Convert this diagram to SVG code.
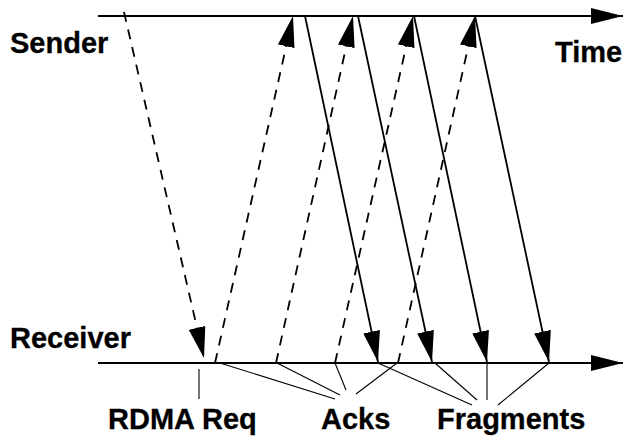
<svg xmlns="http://www.w3.org/2000/svg" width="626" height="438" viewBox="0 0 626 438">
<style>
.lbl{font-family:"Liberation Sans",Arial,sans-serif;font-weight:bold;font-size:29px;fill:#000;stroke:#000;stroke-width:0.3}
.axis{stroke:#000;stroke-width:2.2;fill:none}
.dash{stroke:#000;stroke-width:1.8;stroke-dasharray:10 8;fill:none}
.solid{stroke:#000;stroke-width:1.8;fill:none}
.thin{stroke:#000;stroke-width:1.1;fill:none}
</style>
<defs>
<marker id="ah" viewBox="0 0 31 17" markerWidth="31" markerHeight="17" refX="31" refY="8.5" markerUnits="userSpaceOnUse" orient="auto">
<path d="M0,0 L31,8.5 L0,17 Z" fill="#000"/>
</marker>
<marker id="axh" viewBox="0 0 32 16" markerWidth="32" markerHeight="16" refX="32" refY="8" markerUnits="userSpaceOnUse" orient="auto">
<path d="M0,0 L32,8 L0,16 Z" fill="#000"/>
</marker>
</defs>
<g id="sender">
<line class="axis" x1="98" y1="16" x2="623" y2="16" marker-end="url(#axh)"/>
<text class="lbl" x="10" y="53">Sender</text>
<text class="lbl" x="555" y="62">Time</text>
</g>
<g id="receiver">
<line class="axis" x1="98" y1="363" x2="623" y2="363" marker-end="url(#axh)"/>
<text class="lbl" x="10" y="348">Receiver</text>
</g>
<g id="connectors">
<line class="dash" x1="124" y1="12" x2="204" y2="358" marker-end="url(#ah)"/>
<line class="dash" x1="215" y1="363" x2="293" y2="16" marker-end="url(#ah)"/>
<line class="dash" x1="276" y1="363" x2="353" y2="16" marker-end="url(#ah)"/>
<line class="dash" x1="335" y1="363" x2="413" y2="16" marker-end="url(#ah)"/>
<line class="dash" x1="398" y1="363" x2="475" y2="16" marker-end="url(#ah)"/>
<line class="solid" x1="305" y1="16" x2="378" y2="362" marker-end="url(#ah)"/>
<line class="solid" x1="358" y1="16" x2="432" y2="362" marker-end="url(#ah)"/>
<line class="solid" x1="414" y1="16" x2="487" y2="362" marker-end="url(#ah)"/>
<line class="solid" x1="475" y1="16" x2="549" y2="362" marker-end="url(#ah)"/>
</g>
<g id="label-rdma">
<line class="thin" x1="199" y1="369" x2="199" y2="399"/>
<text class="lbl" x="108" y="429">RDMA Req</text>
</g>
<g id="label-acks">
<line class="thin" x1="220" y1="363" x2="335" y2="399"/>
<line class="thin" x1="277" y1="363" x2="340" y2="395"/>
<line class="thin" x1="335" y1="363" x2="346" y2="390"/>
<line class="thin" x1="397" y1="363" x2="356" y2="394"/>
<text class="lbl" x="321" y="429">Acks</text>
</g>
<g id="label-fragments">
<line class="thin" x1="378" y1="363" x2="472" y2="405"/>
<line class="thin" x1="435" y1="363" x2="477" y2="400"/>
<line class="thin" x1="487" y1="363" x2="487" y2="400"/>
<line class="thin" x1="549" y1="363" x2="498" y2="405"/>
<text class="lbl" x="437" y="429">Fragments</text>
</g>
</svg>
